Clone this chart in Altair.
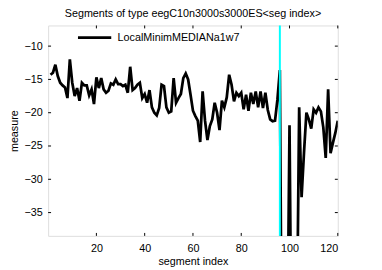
import altair as alt
import pandas as pd

# ---- data ----
series_name = "LocalMinimMEDIANa1w7"
seg_index = list(range(1, 121))
measure = [
    -14.3, -14.0, -12.8, -14.5, -15.5, -15.9, -16.2, -17.8, -12.0, -15.5,
    -17.5, -16.3, -18.2, -15.5, -15.9, -15.9, -17.4, -16.5, -18.7, -14.7,
    -16.3, -14.8, -16.5, -17.0, -16.7, -15.6, -15.8, -15.0, -15.7, -15.7,
    -16.0, -15.8, -17.0, -13.1, -16.6, -16.3, -15.8, -15.5, -17.8, -17.2,
    -18.5, -16.6, -19.2, -20.0, -20.4, -19.3, -15.8, -16.0, -19.2, -20.0,
    -19.8, -14.8, -18.5, -17.8, -17.2, -14.8, -14.1, -15.0, -17.3, -19.7,
    -20.5, -21.2, -24.4, -16.8, -21.2, -24.1, -22.0, -21.0, -18.5, -20.0,
    -22.6, -18.2, -19.2, -17.7, -14.3, -15.8, -18.3, -17.0, -17.5, -17.0,
    -19.5, -17.3, -19.7, -17.0, -18.7, -16.8, -19.2, -16.8, -19.3, -17.0,
    -19.6, -21.0, -21.3, -21.2, -18.0, -13.6, -70.0, -75.0, -60.0, -21.9,
    -65.0, -70.0, -55.0, -19.2, -32.7, -26.0, -20.0, -21.0, -22.4, -19.5,
    -20.0, -19.2, -19.8, -22.2, -26.8, -16.5, -26.1, -24.5, -23.0, -21.2,
]
marker_index = [96]
x_ticks = [20, 40, 60, 80, 100, 120]
y_ticks = [-35, -30, -25, -20, -15, -10]
x_domain = [0, 120]
y_domain = [-38.5, -6.9]

FONT = "Liberation Sans"
W, H = 296, 215

df = pd.DataFrame({"seg": seg_index, "measure": measure, "series": series_name})
df_marker = pd.DataFrame({"seg": marker_index})
df_xt = pd.DataFrame({"seg": x_ticks})
df_yt = pd.DataFrame({"measure": y_ticks})

xscale = alt.Scale(domain=x_domain, nice=False, zero=False)
yscale = alt.Scale(domain=y_domain, nice=False, zero=False)

x_axis = alt.Axis(values=x_ticks, title="segment index", grid=False, ticks=False,
                  domain=False, labelPadding=7, labelFontSize=11, labelFont=FONT,
                  labelColor="black", titleFont=FONT, titleFontSize=11,
                  titleFontWeight="normal", titleColor="black", titlePadding=2)
y_axis = alt.Axis(values=y_ticks, title="measure", grid=False, ticks=False,
                  domain=False, labelPadding=6, labelFontSize=11, labelFont=FONT,
                  labelColor="black", titleFont=FONT, titleFontSize=11,
                  titleFontWeight="normal", titleColor="black", titlePadding=5)

line = alt.Chart(df).mark_line(clip=True, strokeWidth=2.8, strokeJoin="miter").encode(
    x=alt.X("seg:Q", scale=xscale, axis=x_axis),
    y=alt.Y("measure:Q", scale=yscale, axis=y_axis),
    color=alt.Color("series:N", scale=alt.Scale(domain=[series_name], range=["black"]),
                    legend=alt.Legend(title=None, orient="none", legendX=29, legendY=-6,
                                      symbolType="stroke", symbolSize=1156,
                                      symbolStrokeWidth=2.8, labelFont=FONT,
                                      labelFontSize=11, labelColor="black",
                                      labelOffset=5, padding=0)),
)

marker = alt.Chart(df_marker).mark_rule(color="#00FFFF", strokeWidth=2).encode(
    x=alt.X("seg:Q", scale=xscale)
)

tick_style = dict(color="black", strokeWidth=1)
xt_bottom = alt.Chart(df_xt).mark_rule(**tick_style).encode(
    x=alt.X("seg:Q", scale=xscale), y=alt.value(H), y2=alt.value(H - 3))
xt_top = alt.Chart(df_xt).mark_rule(**tick_style).encode(
    x=alt.X("seg:Q", scale=xscale), y=alt.value(0), y2=alt.value(3))
yt_left = alt.Chart(df_yt).mark_rule(**tick_style).encode(
    y=alt.Y("measure:Q", scale=yscale), x=alt.value(0), x2=alt.value(3))
yt_right = alt.Chart(df_yt).mark_rule(**tick_style).encode(
    y=alt.Y("measure:Q", scale=yscale), x=alt.value(W), x2=alt.value(W - 3))

chart = alt.layer(line, marker, xt_bottom, xt_top, yt_left, yt_right).properties(
    width=W, height=H,
    title=alt.TitleParams("Segments of type eegC10n3000s3000ES<seg index>",
                          font=FONT, fontSize=11, fontWeight="normal",
                          color="black", offset=5, dy=4),
    padding={"left": 41, "top": 15, "right": 37, "bottom": 32},
    autosize=alt.AutoSizeParams(type="none"),
).configure_view(stroke="black", strokeWidth=1).configure(background="white")

chart.save("out.html", embed_options={"renderer": "svg", "actions": False})
